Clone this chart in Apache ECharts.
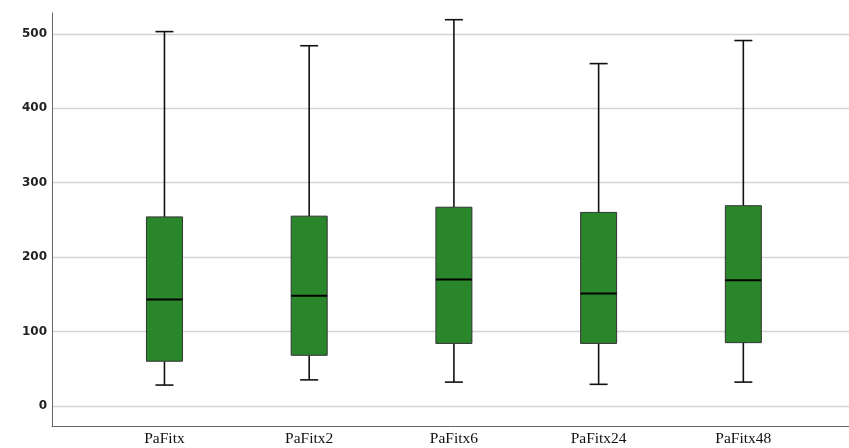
<!DOCTYPE html>
<html>
<head>
<meta charset="utf-8">
<script src="https://cdn.jsdelivr.net/npm/echarts@6/dist/echarts.min.js"></script>
<style>html,body{margin:0;padding:0;background:#fff}#c{width:849px;height:448px}</style>
</head>
<body>
<div id="c"></div>
<script>
const categories = ['PaFitx', 'PaFitx2', 'PaFitx6', 'PaFitx24', 'PaFitx48'];
const lowWhisker = [28, 35, 32, 29, 32];
const q1 = [60, 68, 84, 84, 85];
const median = [143, 148, 170, 151, 169];
const q3 = [254, 255, 267, 260, 269];
const highWhisker = [503, 484, 519, 460, 491];
const yTicks = [0, 100, 200, 300, 400, 500];

const data = categories.map((c, i) => [i, lowWhisker[i], q1[i], median[i], q3[i], highWhisker[i]]);

const chart = echarts.init(document.getElementById('c'), null, {renderer: 'canvas'});
chart.setOption({
  animation: false,
  backgroundColor: '#fff',
  grid: [
    {left: 52, right: 0, top: 13, bottom: 22},
    {left: 52, right: 0, top: 33.8, bottom: 42.1},
    {left: 92.1, right: 33.3, top: 13, bottom: 22}
  ],
  xAxis: [
    {gridIndex: 0, type: 'value', min: 0, max: 1, axisLine: {show: true, onZero: false, lineStyle: {color: '#666', width: 1}}, axisTick: {show: false}, axisLabel: {show: false}, splitLine: {show: false}},
    {gridIndex: 1, type: 'value', min: 0, max: 1, show: false},
    {gridIndex: 2, type: 'category', data: categories, axisLine: {show: false}, axisTick: {show: false}, splitLine: {show: false},
      axisLabel: {color: '#111', fontFamily: 'Liberation Serif', fontSize: 15.5, margin: 5}}
  ],
  yAxis: [
    {gridIndex: 0, type: 'value', min: 0, max: 1, axisLine: {show: true, onZero: false, lineStyle: {color: '#666', width: 1}}, axisTick: {show: false}, axisLabel: {show: false}, splitLine: {show: false}},
    {gridIndex: 1, type: 'value', min: yTicks[0], max: yTicks[yTicks.length - 1], interval: 100,
      axisLine: {show: false}, axisTick: {show: false},
      axisLabel: {color: '#222', fontFamily: 'DejaVu Sans', fontWeight: 'bold', fontSize: 12, margin: 5},
      splitLine: {show: true, lineStyle: {color: '#d4d4d4', width: 1.3}}},
    {gridIndex: 2, type: 'value', min: -27, max: 528, show: false}
  ],
  series: [{
    type: 'custom',
    xAxisIndex: 2,
    yAxisIndex: 2,
    data: data,
    encode: {x: 0, y: [1, 2, 3, 4, 5]},
    renderItem: function (params, api) {
      const x = api.value(0);
      const pLow = api.coord([x, api.value(1)]);
      const pQ1 = api.coord([x, api.value(2)]);
      const pMed = api.coord([x, api.value(3)]);
      const pQ3 = api.coord([x, api.value(4)]);
      const pHigh = api.coord([x, api.value(5)]);
      const cx = pLow[0];
      const bw = 36, cw = 18;
      const wStyle = {stroke: '#111', lineWidth: 1.6};
      return {
        type: 'group',
        children: [
          {type: 'line', shape: {x1: cx, y1: pHigh[1], x2: cx, y2: pQ3[1]}, style: wStyle},
          {type: 'line', shape: {x1: cx, y1: pQ1[1], x2: cx, y2: pLow[1]}, style: wStyle},
          {type: 'line', shape: {x1: cx - cw / 2, y1: pHigh[1], x2: cx + cw / 2, y2: pHigh[1]}, style: wStyle},
          {type: 'line', shape: {x1: cx - cw / 2, y1: pLow[1], x2: cx + cw / 2, y2: pLow[1]}, style: wStyle},
          {type: 'rect', shape: {x: cx - bw / 2, y: pQ3[1], width: bw, height: pQ1[1] - pQ3[1]},
            style: {fill: '#2a862a', stroke: '#333', lineWidth: 1}},
          {type: 'line', shape: {x1: cx - bw / 2, y1: pMed[1], x2: cx + bw / 2, y2: pMed[1]}, style: {stroke: '#000', lineWidth: 2}}
        ]
      };
    }
  }]
});
</script>
</body>
</html>
